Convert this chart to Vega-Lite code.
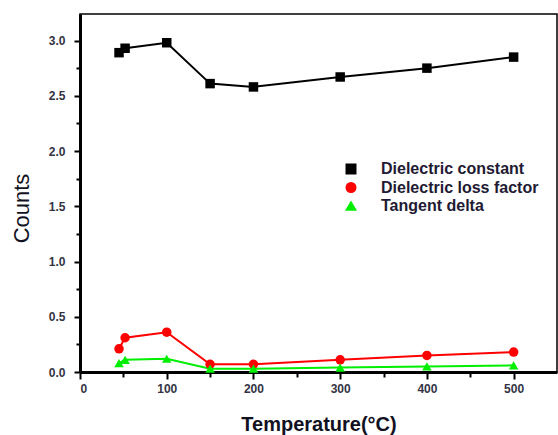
{
  "$schema": "https://vega.github.io/schema/vega-lite/v6.json",
  "width": 477,
  "height": 358,
  "autosize": "none",
  "padding": {"left": 80, "top": 14, "right": 1, "bottom": 63},
  "background": "white",
  "config": {
    "font": "Liberation Sans",
    "view": {"stroke": "black", "strokeWidth": 1.5},
    "axis": {
      "domainColor": "black",
      "domainWidth": 3,
      "tickColor": "black",
      "tickWidth": 2,
      "grid": false,
      "labelFont": "Liberation Sans",
      "labelFontWeight": "bold",
      "labelFontSize": 12,
      "labelColor": "#333344",
      "titleFont": "Liberation Sans",
      "titleColor": "#111122"
    }
  },
  "data": {
    "values": [
      {"temp": 45, "value": 2.89, "series": "Dielectric constant"},
      {"temp": 52, "value": 2.93, "series": "Dielectric constant"},
      {"temp": 100, "value": 2.98, "series": "Dielectric constant"},
      {"temp": 150, "value": 2.61, "series": "Dielectric constant"},
      {"temp": 200, "value": 2.58, "series": "Dielectric constant"},
      {"temp": 300, "value": 2.67, "series": "Dielectric constant"},
      {"temp": 400, "value": 2.75, "series": "Dielectric constant"},
      {"temp": 500, "value": 2.85, "series": "Dielectric constant"},
      {"temp": 45, "value": 0.21, "series": "Dielectric loss factor"},
      {"temp": 52, "value": 0.31, "series": "Dielectric loss factor"},
      {"temp": 100, "value": 0.36, "series": "Dielectric loss factor"},
      {"temp": 150, "value": 0.07, "series": "Dielectric loss factor"},
      {"temp": 200, "value": 0.07, "series": "Dielectric loss factor"},
      {"temp": 300, "value": 0.11, "series": "Dielectric loss factor"},
      {"temp": 400, "value": 0.15, "series": "Dielectric loss factor"},
      {"temp": 500, "value": 0.18, "series": "Dielectric loss factor"},
      {"temp": 45, "value": 0.08, "series": "Tangent delta"},
      {"temp": 52, "value": 0.11, "series": "Tangent delta"},
      {"temp": 100, "value": 0.12, "series": "Tangent delta"},
      {"temp": 150, "value": 0.03, "series": "Tangent delta"},
      {"temp": 200, "value": 0.03, "series": "Tangent delta"},
      {"temp": 300, "value": 0.04, "series": "Tangent delta"},
      {"temp": 400, "value": 0.05, "series": "Tangent delta"},
      {"temp": 500, "value": 0.06, "series": "Tangent delta"}
    ]
  },
  "encoding": {
    "x": {
      "field": "temp", "type": "quantitative",
      "scale": {"domain": [0, 550], "nice": false},
      "axis": {
        "values": [0, 50, 100, 150, 200, 250, 300, 350, 400, 450, 500],
        "labelExpr": "datum.value % 100 == 0 ? datum.label : ''",
        "title": "Temperature(°C)",
        "titleFontSize": 20,
        "titleFontWeight": "bold",
        "titlePadding": 20,
        "tickSize": {"condition": {"test": "datum.value % 100 == 0", "value": 7}, "value": 5},
        "labelPadding": 4
      }
    },
    "y": {
      "field": "value", "type": "quantitative",
      "scale": {"domain": [0, 3.24], "nice": false},
      "axis": {
        "values": [0, 0.25, 0.5, 0.75, 1, 1.25, 1.5, 1.75, 2, 2.25, 2.5, 2.75, 3],
        "format": ".1f",
        "labelExpr": "abs(datum.value * 2 - round(datum.value * 2)) < 0.01 ? datum.label : ''",
        "title": "Counts",
        "titleFont": "Liberation Sans",
        "titleFontSize": 22,
        "titleFontWeight": "normal",
        "titleX": -47,
        "titleY": 194,
        "tickSize": {"condition": {"test": "abs(datum.value * 2 - round(datum.value * 2)) < 0.01", "value": 6}, "value": 4},
        "labelPadding": 9
      }
    },
    "color": {
      "field": "series", "type": "nominal",
      "scale": {
        "domain": ["Dielectric constant", "Dielectric loss factor", "Tangent delta"],
        "range": ["#000000", "#ff0000", "#00ee00"]
      },
      "legend": {
        "title": null,
        "orient": "none",
        "legendX": 263,
        "legendY": 147,
        "labelFontSize": 16,
        "labelFontWeight": "bold",
        "labelColor": "#221a33",
        "symbolSize": 90,
        "rowPadding": 2.5,
        "labelOffset": 22
      }
    }
  },
  "layer": [
    {
      "mark": {"type": "line", "strokeWidth": 2, "clip": true}
    },
    {
      "mark": {"type": "point", "filled": true, "opacity": 1, "size": 90},
      "encoding": {
        "shape": {
          "field": "series", "type": "nominal",
          "scale": {
            "domain": ["Dielectric constant", "Dielectric loss factor", "Tangent delta"],
            "range": ["square", "circle", "triangle-up"]
          },
          "legend": {
            "title": null,
            "orient": "none",
            "legendX": 263,
            "legendY": 147,
            "labelFontSize": 16,
            "labelFontWeight": "bold",
            "labelColor": "#221a33",
            "symbolSize": 90,
            "rowPadding": 2.5,
            "labelOffset": 22
          }
        }
      }
    }
  ]
}
